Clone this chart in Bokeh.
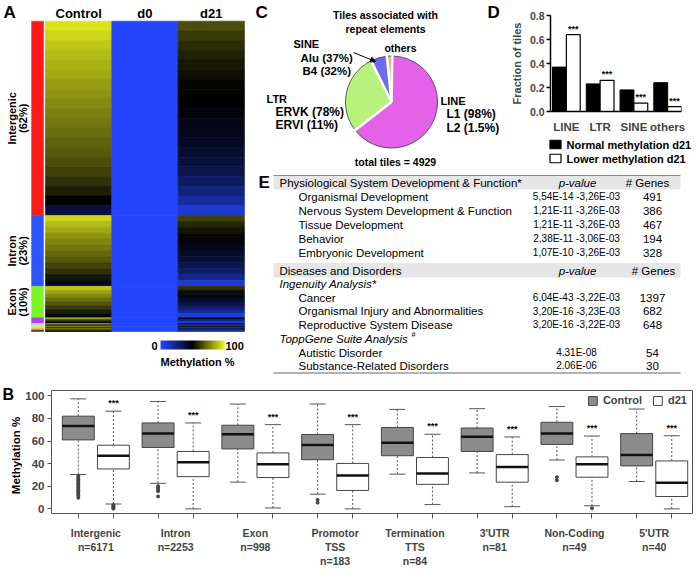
import numpy as np
from bokeh.plotting import figure
from bokeh.layouts import row, column
from bokeh.models import (Range1d, Label, ColumnDataSource, LinearColorMapper, ColorBar,
                          FixedTicker, Arrow, NormalHead, PrintfTickFormatter)
from bokeh.core.properties import value
from bokeh.embed import file_html
from bokeh.resources import INLINE

FONT = "Liberation Sans"

# ---------------- data ----------------
regions = ["Intergenic", "Intron", "Exon", "Promotor\nTSS", "Termination\nTTS", "3'UTR", "Non-Coding", "5'UTR"]
region_n = [6171, 2253, 998, 183, 84, 81, 49, 40]
region_heat_names = ["Intergenic", "Intron", "Exon"]
region_pct = ["(62%)", "(23%)", "(10%)"]
region_colors = ["#ff1a1a", "#2a55ff", "#7cf526", "#b040f0", "#9fe6f0", "#f0e050", "#f0a040", "#2a2a60"]

# heatmap rows (sorted top to bottom inside each region), methylation %
heat_control = [
    [96, 93, 90, 88, 86, 84, 82, 80, 78, 76, 74, 72, 70, 68, 66, 63, 60, 56, 50, 38],
    [93, 88, 84, 80, 77, 74, 71, 68, 64, 60, 55, 45],
    [90, 83, 77, 72, 67, 62, 56, 46],
    [82, 62, 42],
    [80, 58],
    [78, 57],
    [80, 62],
    [72, 45],
]
heat_d0 = [[0], [0], [0], [0], [0], [0], [0], [0]]
heat_d21 = [
    [66, 62, 59, 57, 55, 53, 51, 50, 49, 48, 46, 45, 43, 41, 38, 35, 31, 26, 19, 9],
    [63, 58, 54, 51, 48, 45, 42, 39, 35, 30, 22, 8],
    [60, 52, 47, 42, 36, 29, 20, 6],
    [45, 25, 8],
    [40, 15],
    [42, 18],
    [40, 20],
    [35, 8],
]
heat_columns = ["Control", "d0", "d21"]

# box plot statistics (B)
ctrl_low = [30.4, 22.6, 23.6, 13.0, 30.7, 31.8, 43.2, 24.2]
ctrl_q1 = [61.0, 54.3, 53.0, 43.5, 47.0, 50.8, 57.0, 38.0]
ctrl_med = [73.4, 66.6, 66.0, 56.5, 58.4, 63.9, 66.6, 47.6]
ctrl_q3 = [82.0, 76.0, 74.0, 65.8, 72.0, 71.5, 76.6, 66.6]
ctrl_high = [97.3, 95.0, 92.7, 92.7, 88.0, 88.6, 90.5, 88.3]

d21_low = [4.3, 0.0, 0.8, 0.0, 3.8, 1.9, 2.7, 0.0]
d21_q1 = [35.3, 28.5, 27.7, 16.3, 21.7, 23.6, 28.0, 10.9]
d21_med = [47.0, 41.3, 39.4, 29.6, 31.3, 37.0, 39.4, 23.1]
d21_q3 = [56.3, 50.8, 49.5, 40.2, 45.4, 48.0, 46.0, 42.4]
d21_high = [86.4, 76.0, 74.5, 74.5, 66.0, 63.6, 64.4, 64.7]

ctrl_out_group = [0] * 14 + [1] * 5 + [3] * 2 + [6] * 2
ctrl_out_value = [29, 27.5, 26, 24.8, 23, 21.7, 20.2, 18.9, 17.4, 16, 14.8, 13.1, 11.6, 9.8,
                  20.1, 18.5, 17.0, 15.6, 11.0,
                  8.0, 5.5,
                  28.0, 25.3]
d21_out_group = [0] * 5 + [6]
d21_out_value = [3.5, 2.5, 1.6, 0.8, 0.2, 0.5]
box_series = ["Control", "d21"]

# repeat elements (C, D)
pie_classes = ["others", "SINE", "LTR", "LINE"]
pie_share = [1.9, 5.7, 28.2, 64.2]
pie_colors = ["#f4b07c", "#6c6cf0", "#b8f27c", "#e462e8"]

repeat_classes = ["LINE", "LTR", "SINE", "others"]
normal_d21 = [0.37, 0.23, 0.18, 0.24]
lower_d21 = [0.64, 0.26, 0.07, 0.04]
bar_series = ["Normal methylation d21", "Lower methylation d21"]

# table (E)
phys_terms = ["Organismal Development", "Nervous System Development & Function", "Tissue Development",
              "Behavior", "Embryonic Development"]
phys_pvalues = ["5,54E-14 -3,26E-03", "1,21E-11 -3,26E-03", "1,21E-11 -3,26E-03",
                "2,38E-11 -3,06E-03", "1,07E-10 -3,26E-03"]
phys_genes = [491, 386, 467, 194, 328]
ing_terms = ["Cancer", "Organismal Injury and Abnormalities", "Reproductive System Disease"]
ing_pvalues = ["6,04E-43 -3,22E-03", "3,20E-16 -3,23E-03", "3,20E-16 -3,22E-03"]
ing_genes = [1397, 682, 648]
topp_terms = ["Autistic Disorder", "Substance-Related Disorders"]
topp_pvalues = ["4.31E-08", "2.06E-06"]
topp_genes = [54, 30]


def lab(p, x, y, text, size="11px", style="bold", align="left", baseline="middle", **kw):
    p.add_layout(Label(x=x, y=y, text=text, text_font=FONT, text_font_style=style,
                       text_font_size=size, text_align=align, text_baseline=baseline,
                       text_color="black", **kw))


def blank_fig(w, h, x0, y0):
    # data units = page pixels (y downwards)
    p = figure(width=w, height=h, x_range=Range1d(x0, x0 + w), y_range=Range1d(y0 + h, y0),
               x_axis_location=None, y_axis_location=None, min_border=0, outline_line_color=None,
               toolbar_location=None, output_backend="svg")
    p.grid.visible = False
    return p


def make_palette():
    stops = [(0.0, (35, 70, 252)), (0.5, (0, 0, 0)), (1.0, (236, 246, 30))]
    out = []
    for i in range(256):
        t = i / 255
        for (a, ca), (b, cb) in zip(stops[:-1], stops[1:]):
            if a <= t <= b:
                f = (t - a) / (b - a)
                c = [int(round(ca[k] + (cb[k] - ca[k]) * f)) for k in range(3)]
                out.append("#%02x%02x%02x" % tuple(c))
                break
    return out


mapper = LinearColorMapper(palette=make_palette(), low=0, high=100)

# ---------------- layout sizes ----------------
A_W, C_W, DL_W = 252, 188, 67
DC_W = 696 - A_W - C_W - DL_W
TOP_H, CD_H, DC_H = 378, 170, 135
E_W, E_H = 696 - A_W, TOP_H - CD_H
B_H = 570 - TOP_H
BL_W = 22

# ---------------- panel A ----------------
pA = blank_fig(A_W, TOP_H, 0, 0)
HEAT_TOP, HEAT_BOT = 20.7, 331.0
COL_X0, COL_W = 45.0, 66.3
total = sum(region_n)
tpp = total / (HEAT_BOT - HEAT_TOP)
pA.extra_y_ranges = {"tiles": Range1d(start=(TOP_H - HEAT_TOP) * tpp, end=(0 - HEAT_TOP) * tpp)}
pA.extra_x_ranges = {"cols": Range1d(start=(0 - COL_X0) / COL_W, end=(A_W - COL_X0) / COL_W)}
cum = np.concatenate([[0], np.cumsum(region_n)])

L, R, T, B, V = [], [], [], [], []
for ci, col in enumerate([heat_control, heat_d0, heat_d21]):
    for g, vals in enumerate(col):
        h = region_n[g] / len(vals)
        for j, v in enumerate(vals):
            L.append(ci); R.append(ci + 1)
            T.append(cum[g] + j * h); B.append(cum[g] + (j + 1) * h); V.append(v)
hsrc = ColumnDataSource(dict(left=L, right=R, top=T, bottom=B, v=V))
pA.quad(left="left", right="right", top="top", bottom="bottom", source=hsrc,
        fill_color={"field": "v", "transform": mapper}, line_color={"field": "v", "transform": mapper},
        line_width=0.7, x_range_name="cols", y_range_name="tiles")
pA.quad(left=-0.21, right=-0.03, top=cum[:-1], bottom=cum[1:], fill_color=region_colors,
        line_color=region_colors, line_width=0.5, x_range_name="cols", y_range_name="tiles")

for ci, name in enumerate(heat_columns):
    lab(pA, ci + 0.5, 13, name, size="13px", align="center", x_range_name="cols")
for g in range(3):
    ymid = cum[g] + region_n[g] / 2
    lab(pA, 11, ymid, region_heat_names[g], size="11px", align="center", angle=np.pi / 2, y_range_name="tiles")
    lab(pA, 22.5, ymid, region_pct[g], size="11px", align="center", angle=np.pi / 2, y_range_name="tiles")
lab(pA, 3, 2, "A", size="17px", baseline="top")

cb = ColorBar(color_mapper=mapper, orientation="horizontal", width=64, height=9,
              location=(160, TOP_H - 349), ticker=FixedTicker(ticks=[]), major_label_text_font_size="0px",
              major_tick_line_color=None, minor_tick_line_color=None, bar_line_color=None,
              border_line_color=None, background_fill_color=None, padding=0, margin=0)
pA.add_layout(cb)
lab(pA, 157, 345, "0", size="11px", align="right")
lab(pA, 225, 345, "100", size="11px", align="left")
lab(pA, 197, 361, "Methylation %", size="11px", align="center")

# ---------------- panel C ----------------
pC = blank_fig(C_W, CD_H, A_W, 0)
PX, PY, PR = 391.0, 101.5, 46.0
START = np.deg2rad(89)
ang = np.array(pie_share) / sum(pie_share) * 2 * np.pi
ends = START + np.cumsum(ang)
starts = ends - ang
pC.wedge(x=PX, y=PY, radius=PR, start_angle=starts, end_angle=ends, fill_color=pie_colors,
         line_color="#3a3a3a", line_width=0.8)
pC.ray(x=PX, y=PY, length=PR + 1, angle=starts, line_color="white", line_width=2.5)
lab(pC, 255, 2, "C", size="17px", baseline="top")
lab(pC, 385, 14, "Tiles associated with", size="10.5px", align="center")
lab(pC, 385, 28, "repeat elements", size="10.5px", align="center")
lab(pC, 293, 43, "SINE", size="11px")
lab(pC, 300, 57, "Alu (37%)", size="11.5px")
lab(pC, 302, 70, "B4 (32%)", size="11.5px")
lab(pC, 400, 47, "others", size="10.5px", align="center")
lab(pC, 266, 98, "LTR", size="11px")
lab(pC, 275, 111, "ERVK (78%)", size="12px")
lab(pC, 275, 124, "ERVI (11%)", size="12px")
lab(pC, 395, 161, "total tiles = 4929", size="10.5px", align="center")
pC.add_layout(Arrow(x_start=353, y_start=52, x_end=375, y_end=61, line_width=1, line_color="black",
                    end=NormalHead(size=5, fill_color="black", line_color="black")))

# ---------------- panel D ----------------
DL_X0 = A_W + C_W
pDl = blank_fig(DL_W, CD_H, DL_X0, 0)
lab(pDl, 487, 2, "D", size="17px", baseline="top")
lab(pDl, 440, 100, "LINE", size="11px")
lab(pDl, 446, 113.5, "L1 (98%)", size="12px")
lab(pDl, 446, 127, "L2 (1.5%)", size="12px")

DC_X0 = DL_X0 + DL_W
FR_L, FR_R, FR_T, FR_B = 548, 681, 15, 115      # frame edges on the page
pD = figure(width=DC_W, height=DC_H, x_range=Range1d(-0.47, 3.41), y_range=Range1d(0, 0.8),
            min_border_left=FR_L - DC_X0, min_border_right=DC_X0 + DC_W - FR_R, min_border_top=FR_T,
            min_border_bottom=DC_H - FR_B,
            outline_line_color=None, toolbar_location=None, output_backend="svg")
pD.grid.visible = False
xi = np.arange(len(repeat_classes))
pD.vbar(x=xi - 0.205, top=normal_d21, width=0.41, fill_color="black", line_color="black", line_width=1)
pD.vbar(x=xi + 0.205, top=lower_d21, width=0.41, fill_color="white", line_color="black", line_width=1.2)
pD.text(x=xi + 0.205, y=lower_d21, text=["***"] * 4, y_offset=-1, text_align="center", text_baseline="bottom",
        text_font=value(FONT), text_font_style="bold", text_font_size="9px")
pD.yaxis.ticker = FixedTicker(ticks=[0, 0.2, 0.4, 0.6, 0.8])
pD.yaxis.formatter = PrintfTickFormatter(format="%.1f")
pD.yaxis.axis_label = "Fraction of tiles"
pD.xaxis.ticker = FixedTicker(ticks=list(xi))
pD.xaxis.major_label_overrides = {int(i): c for i, c in zip(xi, repeat_classes)}
for ax in [pD.xaxis[0], pD.yaxis[0]]:
    ax.axis_line_width = 1.5
    ax.axis_line_color = "black"
    ax.major_label_text_font = FONT
    ax.major_label_text_font_style = "bold"
    ax.minor_tick_line_color = None
    ax.axis_label_text_font = FONT
    ax.axis_label_text_font_style = "bold"
    ax.axis_label_text_font_size = "11px"
pD.yaxis.major_label_text_font_size = "10.5px"
pD.yaxis.major_tick_out = 4
pD.yaxis.major_tick_in = 0
pD.yaxis.major_tick_line_width = 1.5
pD.yaxis.major_label_standoff = 2
pD.yaxis.axis_label_standoff = 4
pD.xaxis.major_label_text_font_size = "11.5px"
pD.xaxis.major_tick_line_color = None
pD.xaxis.major_label_standoff = 3

# legend of D (own small canvas below the bars)
pDg = blank_fig(DC_W, CD_H - DC_H, DC_X0, DC_H)
KEY_X, KEY_W, KEY_H, KEY_Y = 549.5, 11, 8.5, [144, 158]
pDg.quad(left=KEY_X, right=KEY_X + KEY_W, top=[y - KEY_H / 2 for y in KEY_Y],
         bottom=[y + KEY_H / 2 for y in KEY_Y], fill_color=["black", "white"], line_color="black",
         line_width=1.2)
for y, txt in zip(KEY_Y, bar_series):
    lab(pDg, 566, y, txt, size="11px")

# ---------------- panel E ----------------
pE = blank_fig(E_W, E_H, A_W, CD_H)
TX0, TX1 = 273, 680
pE.quad(left=[TX0, TX0], right=[TX1, TX1], top=[175, 262.5], bottom=[189, 277],
        fill_color="#e6e6e6", line_color=None)
pE.segment(x0=TX0, x1=TX1, y0=175, y1=175, line_color="#8a8a8a", line_width=1)
pE.segment(x0=TX0, x1=TX1, y0=372.5, y1=372.5, line_color="#9a9a9a", line_width=1.6)
lab(pE, 258, 182, "E", size="17px")

NAME_X, ITEM_X, P_X, G_X = 279, 298, 576, 652


def table_block(terms, pvals, genes, y0, dy):
    ys = [y0 + i * dy for i in range(len(terms))]
    pE.text(x=[ITEM_X] * len(terms), y=ys, text=terms, text_font=value(FONT), text_font_size="11.5px",
            text_baseline="middle", text_align="left")
    pE.text(x=[P_X] * len(terms), y=ys, text=pvals, text_font=value(FONT), text_font_size="10px",
            text_baseline="middle", text_align="center")
    pE.text(x=[G_X] * len(terms), y=ys, text=[str(g) for g in genes], text_font=value(FONT),
            text_font_size="11.5px", text_baseline="middle", text_align="center")


lab(pE, NAME_X, 182, "Physiological System Development & Function*", size="11.5px", style="normal")
lab(pE, 577, 182, "p-value", size="11.5px", style="italic", align="center")
lab(pE, 647, 182, "# Genes", size="11.5px", style="normal", align="center")
table_block(phys_terms, phys_pvalues, phys_genes, 196, 14)
lab(pE, NAME_X, 270, "Diseases and Disorders", size="11.5px", style="normal")
lab(pE, 577, 270, "p-value", size="11.5px", style="italic", align="center")
lab(pE, 653, 270, "# Genes", size="11.5px", style="normal", align="center")
lab(pE, NAME_X, 283.5, "Ingenuity Analysis*", size="11.5px", style="italic")
table_block(ing_terms, ing_pvalues, ing_genes, 297, 13.7)
lab(pE, NAME_X, 338, "ToppGene Suite Analysis", size="11.5px", style="italic")
lab(pE, 411, 334, "#", size="7px", style="italic")
table_block(topp_terms, topp_pvalues, topp_genes, 352, 13)

# ---------------- panel B ----------------
B_Y0 = TOP_H
pBl = blank_fig(BL_W, B_H, 0, B_Y0)
lab(pBl, 2, 385, "B", size="16px", baseline="top")
lab(pBl, 15.5, 455, "Methylation %", size="11.5px", align="center", angle=np.pi / 2)

BF_L, BF_R, BF_T, BF_B = 49, 692, 390, 523
pB = figure(width=696 - BL_W, height=B_H, x_range=Range1d(-0.556, 7.48), y_range=Range1d(-4.1, 104.7),
            min_border_left=BF_L - BL_W, min_border_right=696 - BF_R, min_border_top=BF_T - B_Y0,
            min_border_bottom=B_Y0 + B_H - BF_B,
            outline_line_color="#555555", outline_line_width=1,
            toolbar_location=None, output_backend="svg")
pB.grid.visible = False
gi = np.arange(len(regions))
xc, xd = gi - 0.22, gi + 0.22
BW, CW = 0.40, 0.20
for xs, lo, q1, md, q3, hi in [(xc, ctrl_low, ctrl_q1, ctrl_med, ctrl_q3, ctrl_high),
                               (xd, d21_low, d21_q1, d21_med, d21_q3, d21_high)]:
    pB.segment(x0=xs, x1=xs, y0=q3, y1=hi, line_color="#555555", line_width=1, line_dash="2 2")
    pB.segment(x0=xs, x1=xs, y0=lo, y1=q1, line_color="#555555", line_width=1, line_dash="2 2")
    pB.segment(x0=xs - CW / 2, x1=xs + CW / 2, y0=hi, y1=hi, line_color="#555555", line_width=1)
    pB.segment(x0=xs - CW / 2, x1=xs + CW / 2, y0=lo, y1=lo, line_color="#555555", line_width=1)
pB.vbar(x=xc, bottom=ctrl_q1, top=ctrl_q3, width=BW, fill_color="#8c8c8c", line_color="#444444",
        line_width=1, legend_label=box_series[0])
pB.vbar(x=xd, bottom=d21_q1, top=d21_q3, width=BW, fill_color="white", line_color="#444444",
        line_width=1, legend_label=box_series[1])
pB.segment(x0=xc - BW / 2, x1=xc + BW / 2, y0=ctrl_med, y1=ctrl_med, line_color="#111111", line_width=2.5)
pB.segment(x0=xd - BW / 2, x1=xd + BW / 2, y0=d21_med, y1=d21_med, line_color="#111111", line_width=2.5)
pB.scatter(x=np.array(ctrl_out_group) - 0.22, y=ctrl_out_value, size=3, color="#444444")
pB.scatter(x=np.array(d21_out_group) + 0.22, y=d21_out_value, size=3, color="#444444")
pB.text(x=xd, y=d21_high, text=["***"] * len(regions), y_offset=-3, text_align="center",
        text_baseline="bottom", text_font=value(FONT), text_font_style="bold", text_font_size="9px")

pB.xaxis.ticker = FixedTicker(ticks=list(gi), minor_ticks=list(np.sort(np.concatenate([xc, xd]))))
pB.xaxis.major_label_overrides = {int(i): f"{r}\nn={n}" for i, r, n in zip(gi, regions, region_n)}
pB.xaxis.major_tick_in = 0
pB.xaxis.major_tick_out = 0
pB.xaxis.minor_tick_in = 0
pB.xaxis.minor_tick_out = 5
pB.xaxis.minor_tick_line_color = "#555555"
pB.xaxis.major_label_standoff = 8
pB.yaxis.ticker = FixedTicker(ticks=[0, 20, 40, 60, 80, 100])
pB.yaxis.major_tick_in = 0
pB.yaxis.major_tick_out = 4
pB.yaxis.minor_tick_line_color = None
pB.yaxis.major_label_standoff = 3
for ax in [pB.xaxis[0], pB.yaxis[0]]:
    ax.axis_line_color = None
    ax.major_tick_line_color = "#555555"
    ax.major_label_text_font = FONT
    ax.major_label_text_font_style = "bold"
pB.xaxis.major_label_text_font_size = "10.5px"
pB.yaxis.major_label_text_font_size = "11.5px"

pB.legend.location = "top_right"
pB.legend.orientation = "horizontal"
pB.legend.glyph_width = 11
pB.legend.glyph_height = 11
pB.legend.label_text_font = FONT
pB.legend.label_text_font_style = "bold"
pB.legend.label_text_font_size = "11px"
pB.legend.label_standoff = 5
pB.legend.spacing = 10
pB.legend.padding = 1
pB.legend.margin = 3
pB.legend.background_fill_alpha = 0
pB.legend.border_line_alpha = 0

# blank canvases are wrapped in their own layouts so that Bokeh does not align
# their borders with the neighbouring axes plots
layout = column(row(pA, column(row(pC, pDl, column(pD, row(pDg))), pE)), row(column(pBl), pB))
open("out.html", "w").write(file_html(layout, INLINE))
